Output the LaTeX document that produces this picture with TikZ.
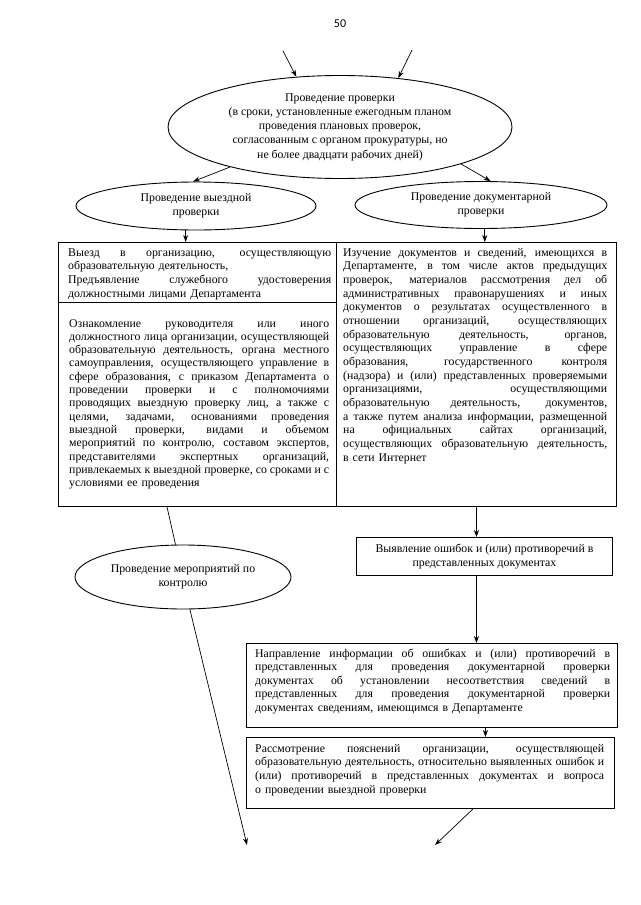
\documentclass[tikz,border=0pt]{standalone}
\usepackage{fontspec}
\setmainfont{Liberation Serif}
\newfontfamily\pagenumfont{Carlito}
\usetikzlibrary{shapes.geometric,arrows.meta,calc}
\newcommand{\jl}[1]{\leavevmode\hbox to \hsize{\spaceskip=0.25em plus 20em minus 0.08em\relax #1}}
\begin{document}
\begin{tikzpicture}[x=1pt,y=-1pt,
  every node/.style={font=\fontsize{11.8}{13.6}\selectfont},
  ell/.style={draw, ellipse, inner sep=0pt, line width=0.9pt, fill=white, align=center},
  frame/.style={draw, rectangle, line width=0.9pt, inner sep=0pt, anchor=north west},
  txt/.style={inner sep=0pt, align=left, anchor=base west},
  conn/.style={line width=0.7pt},
  arr/.style={conn, -{Stealth[length=7pt,width=5pt]}}]
\useasboundingbox[fill=white] (0,0) rectangle (640,905);

% page number
\node[font=\pagenumfont\fontsize{12}{14}\selectfont] (pnum) at (340,24) {50};

% main ellipse
\node[ell, minimum width=344, minimum height=103, font=\fontsize{11.8}{14.2}\selectfont] (main) at (340,127)
 {Проведение проверки\\(в сроки, установленные ежегодным планом\\проведения плановых проверок,\\согласованным с органом прокуратуры, но\\не более двадцати рабочих дней)};

\coordinate (in1) at (283,51);
\coordinate (in2) at (412,50);
\draw[arr] (in1) -- (main.131);
\draw[arr] (in2) -- (main.40);

% second level ellipses
\node[ell, minimum width=240, minimum height=48] (lell) at (196,206) {Проведение выездной\\проверки};
\node[ell, minimum width=252, minimum height=47] (rell) at (481,205) {Проведение документарной\\проверки};
\draw[arr] (main.200) -- (lell.97);
\draw[arr] (main.343) -- (rell.68);

% two columns
\node[frame, minimum width=278, minimum height=264] (lcol) at (58,242) {};
\node[frame, minimum width=280, minimum height=264] (rcol) at (336,242) {};
\draw[arr] (lell.247) -- (lell.247 |- lcol.north);
\draw[arr] (rell.279) -- (rell.279 |- rcol.north);
\draw[conn] ($(lcol.north west)+(0,60)$) -- ($(lcol.north east)+(0,60)$);

\node[txt, text width=263, font=\fontsize{11.8}{13.7}\selectfont] (vyezd) at (68,256)
 {\jl{Выезд в организацию, осуществляющую}\\
  образовательную деятельность,\\
  \jl{Предъявление служебного удостоверения}\\
  должностными лицами Департамента};

\node[txt, text width=260, font=\fontsize{11.8}{13.3}\selectfont] (oznak) at (69,327)
 {\jl{Ознакомление руководителя или иного}\\
  \jl{должностного лица организации, осуществляющей}\\
  \jl{образовательную деятельность, органа местного}\\
  \jl{самоуправления, осуществляющего управление в}\\
  \jl{сфере образования, с приказом Департамента о}\\
  \jl{проведении проверки и с полномочиями}\\
  \jl{проводящих выездную проверку лиц, а также с}\\
  \jl{целями, задачами, основаниями проведения}\\
  \jl{выездной проверки, видами и объемом}\\
  \jl{мероприятий по контролю, составом экспертов,}\\
  \jl{представителями экспертных организаций,}\\
  \jl{привлекаемых к выездной проверке, со сроками и с}\\
  условиями ее проведения};

\node[txt, text width=264, font=\fontsize{11.8}{13.67}\selectfont] (izuch) at (343,256)
 {\jl{Изучение документов и сведений, имеющихся в}\\
  \jl{Департаменте, в том числе актов предыдущих}\\
  \jl{проверок, материалов рассмотрения дел об}\\
  \jl{административных правонарушениях и иных}\\
  \jl{документов о результатах осуществленного в}\\
  \jl{отношении организаций, осуществляющих}\\
  \jl{образовательную деятельность, органов,}\\
  \jl{осуществляющих управление в сфере}\\
  \jl{образования, государственного контроля}\\
  \jl{(надзора) и (или) представленных проверяемыми}\\
  \jl{организациями, осуществляющими}\\
  \jl{образовательную деятельность, документов,}\\
  \jl{а также путем анализа информации, размещенной}\\
  \jl{на официальных сайтах организаций,}\\
  \jl{осуществляющих образовательную деятельность,}\\
  в сети Интернет};

% left lower branch
\node[ell, minimum width=216, minimum height=64] (ctrl) at (183,577) {Проведение мероприятий по\\контролю};
\coordinate (endL) at (247,845);
\draw[conn] ($(lcol.south west)+(109,0)$) -- (ctrl.103);
\draw[arr] (ctrl.282) -- (endL);

% right lower branch
\node[frame, minimum width=256, minimum height=38, align=center] (vyyav) at (356,537)
 {Выявление ошибок и (или) противоречий в\\представленных документах};
\coordinate (vx) at ($(vyyav.north)+(-8,0)$);
\coordinate (rx) at ($(vyyav.north)+(1,0)$);
\draw[arr] (vx |- rcol.south) -- (vx |- vyyav.north);

\node[frame, minimum width=371, minimum height=84] (naprav) at (246,643) {};
\draw[arr] (vx |- vyyav.south) -- (vx |- naprav.north);
\node[txt, text width=355, font=\fontsize{11.8}{13.5}\selectfont] (napravT) at (255,657)
 {\jl{Направление информации об ошибках и (или) противоречий в}\\
  \jl{представленных для проведения документарной проверки}\\
  \jl{документах об установлении несоответствия сведений в}\\
  \jl{представленных для проведения документарной проверки}\\
  документах сведениям, имеющимся в Департаменте};

\node[frame, minimum width=368, minimum height=71] (rassm) at (246,737) {};
\draw[arr] (rx |- naprav.south) -- (rx |- rassm.north);
\node[txt, text width=349, font=\fontsize{11.8}{13.9}\selectfont] (rassmT) at (255,752)
 {\jl{Рассмотрение пояснений организации, осуществляющей}\\
  \jl{образовательную деятельность, относительно выявленных ошибок и}\\
  \jl{(или) противоречий в представленных документах и вопроса}\\
  о проведении выездной проверки};

\coordinate (endR) at (435,845);
\draw[arr] ($(rassm.south west)+(227,0)$) -- (endR);
\end{tikzpicture}
\end{document}
